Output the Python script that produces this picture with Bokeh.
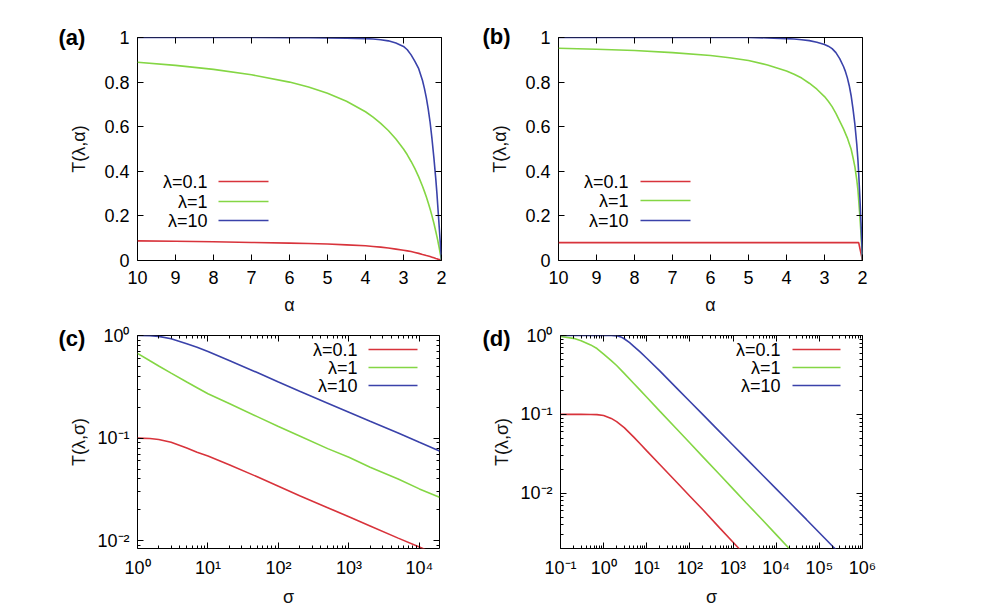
from bokeh.plotting import figure
from bokeh.layouts import column, row
from bokeh.models import (Range1d, LinearAxis, LogAxis, FixedTicker,
                          CustomJSTickFormatter, Label, Arrow, Title)
from bokeh.embed import file_html
from bokeh.resources import INLINE

# ---------------- data ----------------
series_labels = ["λ=0.1", "λ=1", "λ=10"]
panel_tags = ["(a)", "(b)", "(c)", "(d)"]

alpha = [10, 9, 8, 7, 6, 5.5, 5, 4.5, 4, 3.8, 3.6, 3.4, 3.2, 3.0, 2.9, 2.8, 2.7, 2.6, 2.5,
         2.45, 2.4, 2.35, 2.3, 2.25, 2.2, 2.15, 2.12, 2.1, 2.08, 2.06, 2.04, 2.02, 2.01, 2]

a_red = [0.088, 0.086, 0.084, 0.081, 0.078, 0.076, 0.074, 0.070, 0.066, 0.063, 0.060, 0.056,
         0.051, 0.046, 0.043, 0.040, 0.036, 0.032, 0.027, 0.025, 0.022, 0.020, 0.018, 0.015,
         0.012, 0.009, 0.008, 0.006, 0.005, 0.004, 0.003, 0.001, 0.0005, 0.0]
a_green = [0.889, 0.875, 0.857, 0.833, 0.800, 0.778, 0.750, 0.714, 0.667, 0.643, 0.615, 0.583,
           0.545, 0.500, 0.474, 0.444, 0.412, 0.375, 0.333, 0.310, 0.286, 0.259, 0.231, 0.200,
           0.167, 0.130, 0.107, 0.091, 0.074, 0.057, 0.038, 0.020, 0.010, 0.0]
a_blue = [1.0, 1.0, 1.0, 1.0, 0.999, 0.999, 0.998, 0.997, 0.995, 0.993, 0.990, 0.985,
          0.975, 0.960, 0.945, 0.922, 0.893, 0.860, 0.807, 0.772, 0.730, 0.680, 0.620, 0.545,
          0.460, 0.365, 0.300, 0.250, 0.200, 0.150, 0.100, 0.050, 0.025, 0.0]

b_red = [0.08, 0.08, 0.08, 0.08, 0.08, 0.08, 0.08, 0.08, 0.08, 0.08, 0.08, 0.08,
         0.08, 0.08, 0.08, 0.08, 0.08, 0.08, 0.08, 0.08, 0.08, 0.08, 0.08, 0.08,
         0.08, 0.08, 0.08, 0.08, 0.064, 0.048, 0.032, 0.016, 0.008, 0.0]
b_green = [0.952, 0.947, 0.942, 0.932, 0.919, 0.909, 0.897, 0.877, 0.850, 0.835, 0.818, 0.795,
           0.768, 0.735, 0.714, 0.690, 0.660, 0.625, 0.590, 0.570, 0.550, 0.525, 0.500, 0.462,
           0.420, 0.360, 0.315, 0.270, 0.225, 0.175, 0.120, 0.060, 0.030, 0.0]
b_blue = [1.0, 1.0, 1.0, 1.0, 1.0, 1.0, 1.0, 0.998, 0.995, 0.993, 0.990, 0.986,
          0.979, 0.969, 0.961, 0.950, 0.932, 0.905, 0.870, 0.848, 0.820, 0.785, 0.740, 0.680,
          0.610, 0.520, 0.450, 0.390, 0.320, 0.250, 0.170, 0.085, 0.040, 0.0]

sigma_c = [1, 1.5, 2, 3, 5, 7, 10, 20, 50, 100, 200, 500, 1000, 2000, 5000, 10000, 19300]
c_red = [0.100, 0.099, 0.097, 0.091, 0.080, 0.073, 0.067, 0.055, 0.042, 0.034, 0.0275, 0.021,
         0.0171, 0.0139, 0.0106, 0.0087, 0.0071]
c_green = [0.67, 0.567, 0.505, 0.43, 0.352, 0.31, 0.271, 0.217, 0.162, 0.13, 0.105, 0.079,
           0.065, 0.052, 0.040, 0.032, 0.0265]
c_blue = [1.0, 0.995, 0.98, 0.93, 0.83, 0.77, 0.70, 0.57, 0.435, 0.352, 0.286, 0.219,
          0.179, 0.146, 0.112, 0.091, 0.075]

sigma_d_red = [0.1, 0.3, 0.5, 0.7, 1, 1.5, 2, 3, 5, 7, 10, 20, 50, 100, 200, 500, 1000, 2000]
d_red = [0.1, 0.1, 0.0998, 0.0993, 0.097, 0.089, 0.081, 0.068, 0.0515, 0.0425, 0.0345, 0.0232,
         0.0137, 0.0092, 0.0062, 0.0036, 0.0024, 0.0016]
sigma_d_green = [0.1, 0.2, 0.3, 0.5, 0.7, 1, 1.5, 2, 3, 5, 7, 10, 20, 50, 100, 200, 500, 1000,
                 2000, 5000, 10000, 20000]
d_green = [0.97, 0.92, 0.86, 0.76, 0.684, 0.582, 0.481, 0.417, 0.331, 0.247, 0.203, 0.165,
           0.110, 0.0649, 0.0434, 0.029, 0.0171, 0.0114, 0.0076, 0.0045, 0.0030, 0.0020]
sigma_d_blue = [0.1, 0.3, 1, 1.5, 2, 2.5, 3, 4, 5, 7, 10, 20, 50, 100, 200, 500, 1000, 2000,
                5000, 10000, 20000, 50000, 100000, 200000, 300000]
d_blue = [1.0, 1.0, 1.0, 0.998, 0.99, 0.96, 0.91, 0.81, 0.73, 0.62, 0.515, 0.356, 0.214, 0.146,
          0.0993, 0.0597, 0.0407, 0.0277, 0.0167, 0.0114, 0.00776, 0.00467, 0.00317, 0.00215,
          0.00172]

alpha_ticks = [10, 9, 8, 7, 6, 5, 4, 3, 2]
lin_y_ticks = [0, 0.2, 0.4, 0.6, 0.8, 1]
c_x_ticks = [1, 10, 100, 1000, 10000]
c_y_ticks = [0.01, 0.1, 1]
d_x_ticks = [0.1, 1, 10, 100, 1000, 10000, 100000, 1000000]
d_y_ticks = [0.01, 0.1, 1]

# ---------------- styling ----------------
FONT = "Liberation Sans"
COLORS = ["#d8333b", "#84d644", "#3a42aa"]
LW = 1.6

lin_fmt = "return String(Math.round(tick*10)/10);"
log_fmt = """
const e = Math.round(Math.log10(tick));
const sup = {'0':'\u2070','1':'\u00b9','2':'\u00b2','3':'\u00b3','4':'\u2074','5':'\u2075',
             '6':'\u2076','7':'\u2077','8':'\u2078','9':'\u2079','-':'\u207b'};
return '10' + String(e).split('').map(c => sup[c]).join('');
"""


def log_minor(lo, hi):
    out = []
    for k in range(-4, 7):
        for m in range(2, 10):
            v = m * 10.0 ** k
            if lo <= v <= hi:
                out.append(v)
    return out


def make_fig(xtype, ytype, xr, yr, l, r, t, b, fw, fh):
    p = figure(x_axis_type=xtype, y_axis_type=ytype, x_range=xr, y_range=yr,
               frame_width=fw, frame_height=fh,
               min_border_left=l, min_border_right=r, min_border_top=t, min_border_bottom=b,
               toolbar_location=None, output_backend="svg",
               background_fill_color="white", border_fill_color="white")
    p.xgrid.visible = False
    p.ygrid.visible = False
    p.outline_line_color = "black"
    p.outline_line_width = 1
    p.outline_line_alpha = 1
    return p


def style_axis(ax, ticks, minor, code, label_std, label=None, lab_std=6, show=True):
    ax.ticker = FixedTicker(ticks=ticks, minor_ticks=minor)
    ax.formatter = CustomJSTickFormatter(code=code if show else "return '';")
    ax.major_tick_in = 6
    ax.major_tick_out = 0
    ax.minor_tick_in = 3
    ax.minor_tick_out = 0
    ax.axis_line_color = None
    ax.major_tick_line_color = "black"
    ax.minor_tick_line_color = "black"
    ax.major_label_text_font = FONT
    ax.major_label_text_color = "black"
    ax.major_label_text_font_size = "18px" if show else "0px"
    ax.major_label_standoff = label_std if show else 0
    if label is not None:
        ax.axis_label = label
        ax.axis_label_text_font = FONT
        ax.axis_label_text_font_size = "18px"
        ax.axis_label_text_font_style = "normal"
        ax.axis_label_text_color = "#111111"
        ax.axis_label_standoff = lab_std


def decorate(p, is_log, xticks, yticks, xminor, yminor, xlab, ylab, xstd, xlab_std, ystd, ylab_std):
    code = log_fmt if is_log else lin_fmt
    style_axis(p.xaxis[0], xticks, xminor, code, xstd, xlab, xlab_std)
    style_axis(p.yaxis[0], yticks, yminor, code, ystd, ylab, ylab_std)
    AX = LogAxis if is_log else LinearAxis
    top = AX()
    right = AX()
    p.add_layout(top, "above")
    p.add_layout(right, "right")
    style_axis(top, xticks, xminor, code, 0, show=False)
    style_axis(right, yticks, yminor, code, 0, show=False)


def add_key(p, xs_text, x0, x1, ys):
    for lab, col, y in zip(series_labels, COLORS, ys):
        p.add_layout(Label(x=xs_text, y=y, x_units="screen", y_units="screen", text=lab,
                           text_align="right", text_baseline="middle", text_font=FONT,
                           text_font_size="18px", text_color="black"))
        p.add_layout(Arrow(end=None, x_start=x0, y_start=y, x_end=x1, y_end=y,
                           start_units="screen", end_units="screen",
                           line_color=col, line_width=LW))


def tag_title(p, text, offset, standoff):
    t = Title(text=text, align="left", offset=offset, vertical_align="bottom",
              text_font=FONT, text_font_style="bold", text_font_size="22px",
              text_color="black")
    try:
        t.standoff = standoff
    except Exception:
        t.standoff = 0
    p.add_layout(t, "above")


# ---------------- (a) ----------------
fa = make_fig("linear", "linear", Range1d(10, 2), Range1d(0, 1), 137, 37, 36, 56, 304, 223)
for ys, col in zip([a_red, a_green, a_blue], COLORS):
    fa.line(alpha, ys, line_color=col, line_width=LW)
decorate(fa, False, alpha_ticks, lin_y_ticks, [], [], "α", "T(λ,α)", 10, 8, 8, 12)
add_key(fa, 70, 81, 131, [79, 59, 40])
tag_title(fa, panel_tags[0], -79, -24)

# ---------------- (b) ----------------
fb = make_fig("linear", "linear", Range1d(10, 2), Range1d(0, 1), 80, 40, 37, 55, 304, 223)
for ys, col in zip([b_red, b_green, b_blue], COLORS):
    fb.line(alpha, ys, line_color=col, line_width=LW)
decorate(fb, False, alpha_ticks, lin_y_ticks, [], [], "α", "T(λ,α)", 10, 8, 8, 12)
add_key(fb, 70, 82, 132, [79, 60, 40])
tag_title(fb, panel_tags[1], -76, -23)

# ---------------- (c) ----------------
fc = make_fig("log", "log", Range1d(1, 19300), Range1d(0.0084, 1.0), 137, 39, 18, 58, 302, 213)
for ys, col in zip([c_red, c_green, c_blue], COLORS):
    fc.line(sigma_c, ys, line_color=col, line_width=LW)
decorate(fc, True, c_x_ticks, c_y_ticks, log_minor(1, 19300), log_minor(0.0084, 1.0),
         "σ", "T(λ,σ)", 9, 6, 8, 5)
add_key(fc, 220, 231, 280, [199, 181, 163])
tag_title(fc, panel_tags[2], -79, -30)

# ---------------- (d) ----------------
fd = make_fig("log", "log", Range1d(0.1, 1e6), Range1d(0.002, 1.0), 82, 40, 18, 58, 302, 213)
for xs, ys, col in zip([sigma_d_red, sigma_d_green, sigma_d_blue], [d_red, d_green, d_blue], COLORS):
    fd.line(xs, ys, line_color=col, line_width=LW)
decorate(fd, True, d_x_ticks, d_y_ticks, log_minor(0.1, 1e6), log_minor(0.002, 1.0),
         "σ", "T(λ,σ)", 9, 6, 8, 5)
add_key(fd, 220, 232, 280, [199, 181, 163])
tag_title(fd, panel_tags[3], -78, -30)

layout = column(row(fa, fb), row(fc, fd))
open("out.html", "w").write(file_html(layout, INLINE))
